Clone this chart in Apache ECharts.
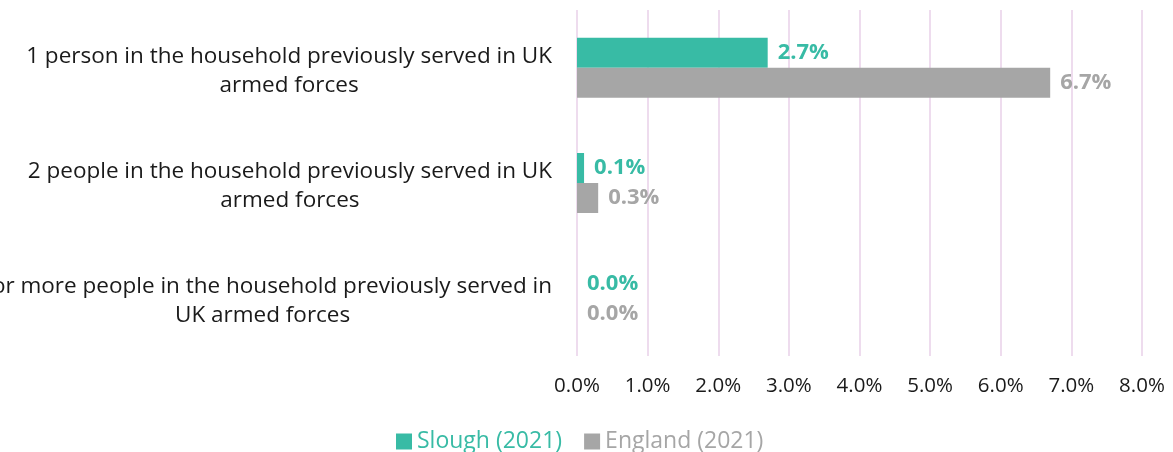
<!DOCTYPE html>
<html><head><meta charset="utf-8">
<script src="https://cdn.jsdelivr.net/npm/echarts@6/dist/echarts.min.js"></script>
<style>html,body{margin:0;padding:0;background:#fff}#c{width:1173px;height:452px}</style>
</head><body><div id="c"></div>
<script>
const categories = [
  ["1 person in the household previously served in UK", "armed forces"],
  ["2 people in the household previously served in UK", "armed forces"],
  ["3 or more people in the household previously served in", "UK armed forces"]
];
const seriesNames = ["Slough (2021)", "England (2021)"];
const slough = [2.7, 0.1, 0.0];
const england = [6.7, 0.3, 0.0];
const tickMax = 8;
const tickStep = 1;

const FONT = "'Open Sans', 'Noto Sans', sans-serif";
const colors = ["#38BBA5", "#A6A6A6"];

const chart = echarts.init(document.getElementById('c'), null, {renderer: 'canvas'});
chart.setOption({
  animation: false,
  grid: {left: 577, right: 31, top: 10, bottom: 96, containLabel: false, outerBoundsMode: 'none'},
  xAxis: {
    type: 'value', min: 0, max: tickMax, interval: tickStep,
    axisLabel: {formatter: v => v.toFixed(1) + '%', fontFamily: FONT, fontSize: 20.5, color: '#1a1a1a', margin: 20},
    axisLine: {show: false}, axisTick: {show: false},
    splitLine: {show: true, lineStyle: {color: '#EEDCEE', width: 2}}
  },
  yAxis: {
    type: 'category', inverse: true,
    data: categories.map(c => c.join('\n')),
    axisLine: {show: false}, axisTick: {show: false},
    axisLabel: {
      margin: 25, align: 'right', padding: [6, 0, 0, 0],
      formatter: (v) => v.split('\n').map(s => '{c|' + s + '}').join('\n'),
      rich: {c: {align: 'center', fontFamily: FONT, fontSize: 22.5, color: '#1a1a1a', lineHeight: 29}}
    }
  },
  legend: {
    bottom: -6, left: 391, icon: 'rect', itemWidth: 16, itemHeight: 16, itemGap: 22, itemTextGap: 4,
    textStyle: {fontFamily: FONT, fontSize: 23},
    data: [
      {name: seriesNames[0], textStyle: {color: colors[0]}},
      {name: seriesNames[1], textStyle: {color: colors[1]}}
    ]
  },
  series: [
    {name: seriesNames[0], type: 'bar', data: slough, barGap: '0%', barCategoryGap: '48%',
     itemStyle: {color: colors[0]},
     label: {show: true, position: 'right', distance: 10, formatter: p => p.value.toFixed(1) + '%',
             fontFamily: FONT, fontSize: 22, fontWeight: 'bold', color: colors[0]}},
    {name: seriesNames[1], type: 'bar', data: england, barGap: '0%', barCategoryGap: '48%',
     itemStyle: {color: colors[1]},
     label: {show: true, position: 'right', distance: 10, formatter: p => p.value.toFixed(1) + '%',
             fontFamily: FONT, fontSize: 22, fontWeight: 'bold', color: colors[1]}}
  ]
});
</script></body></html>
